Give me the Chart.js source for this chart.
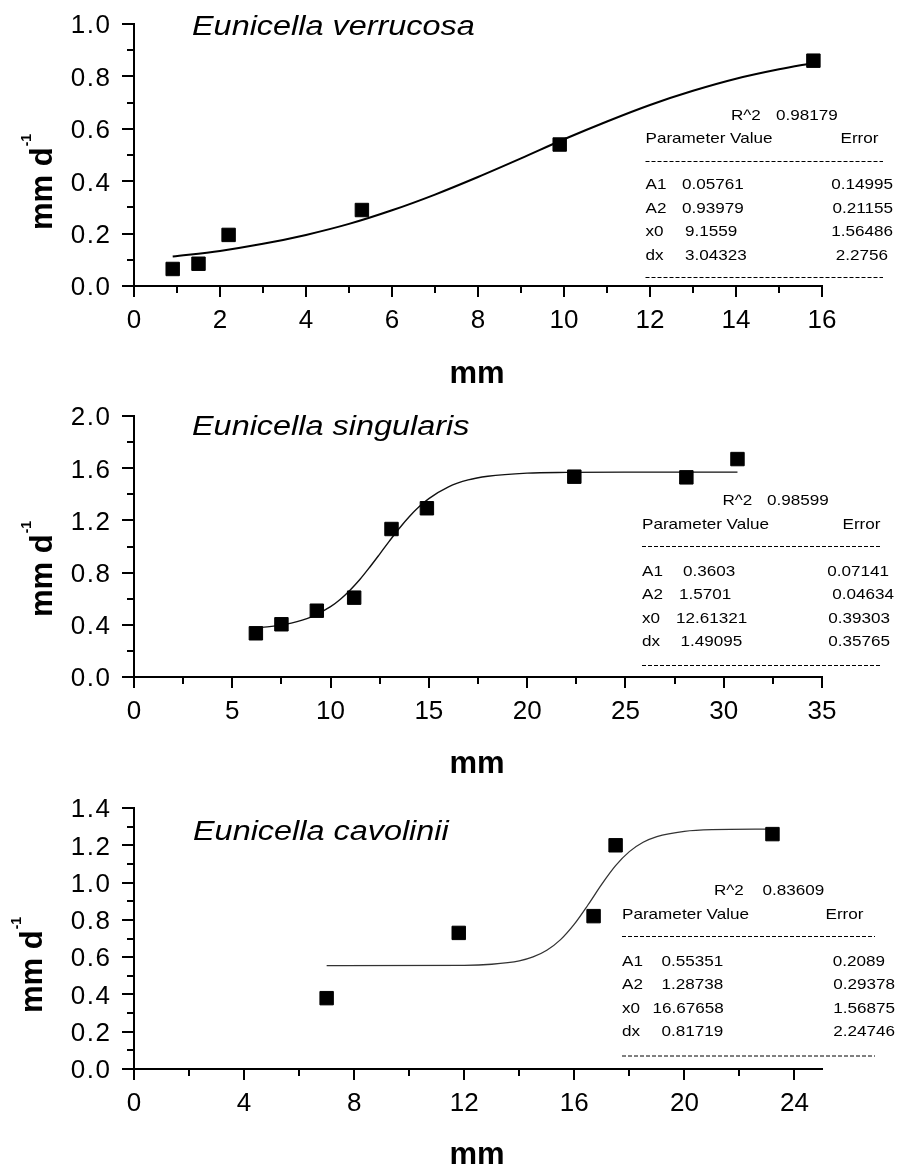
<!DOCTYPE html>
<html lang="en">
<head>
<meta charset="UTF-8">
<title>Eunicella growth rate vs size</title>
<script src="https://cdn.jsdelivr.net/npm/chart.js"></script>
<style>
  body { margin: 0; background: #fff; }
  canvas { display: block; }
</style>
</head>
<body>
<canvas id="c1" width="900" height="390"></canvas>
<canvas id="c2" width="900" height="390"></canvas>
<canvas id="c3" width="900" height="387"></canvas>
<script>
// ---- Eunicella verrucosa ----
const verX = [0.9, 1.5, 2.2, 5.3, 9.9, 15.8];
const verY = [0.065, 0.085, 0.195, 0.29, 0.54, 0.86];
const verFitX = [0.9, 2, 3, 4, 5, 6, 7, 8, 9, 10, 11, 12, 13, 14, 15, 15.8];
const verFitY = [0.113, 0.134, 0.161, 0.195, 0.237, 0.289, 0.349, 0.416, 0.487, 0.560, 0.628, 0.691, 0.745, 0.791, 0.827, 0.851];
const verXTicks = [0, 2, 4, 6, 8, 10, 12, 14, 16];
const verXMinor = [1, 3, 5, 7, 9, 11, 13, 15];
const verYTicks = [0, 0.2, 0.4, 0.6, 0.8, 1.0];
const verYMinor = [0.1, 0.3, 0.5, 0.7, 0.9];
const verYLabels = ['0.0', '0.2', '0.4', '0.6', '0.8', '1.0'];
const verR2 = '0.98179';
const verVals = ['0.05761', '0.93979', '9.1559', '3.04323'];
const verErrs = ['0.14995', '0.21155', '1.56486', '2.2756'];

// ---- Eunicella singularis ----
const singX = [6.2, 7.5, 9.3, 11.2, 13.1, 14.9, 22.4, 28.1, 30.7];
const singY = [0.335, 0.404, 0.508, 0.608, 1.134, 1.293, 1.535, 1.530, 1.670];
const singFitX = [6.2, 7, 8, 9, 10, 10.5, 11, 11.5, 12, 12.5, 13, 13.5, 14, 14.5, 15, 16, 17, 18, 20, 22, 25, 30.7];
const singFitY = [0.377, 0.388, 0.413, 0.459, 0.539, 0.596, 0.667, 0.749, 0.843, 0.942, 1.043, 1.140, 1.228, 1.304, 1.367, 1.457, 1.510, 1.538, 1.562, 1.568, 1.570, 1.570];
const singXTicks = [0, 5, 10, 15, 20, 25, 30, 35];
const singXMinor = [2.5, 7.5, 12.5, 17.5, 22.5, 27.5, 32.5];
const singYTicks = [0, 0.4, 0.8, 1.2, 1.6, 2.0];
const singYMinor = [0.2, 0.6, 1.0, 1.4, 1.8];
const singYLabels = ['0.0', '0.4', '0.8', '1.2', '1.6', '2.0'];
const singR2 = '0.98599';
const singVals = ['0.3603', '1.5701', '12.61321', '1.49095'];
const singErrs = ['0.07141', '0.04634', '0.39303', '0.35765'];

// ---- Eunicella cavolinii ----
const cavX = [7, 11.8, 16.7, 17.5, 23.2];
const cavY = [0.38, 0.73, 0.82, 1.20, 1.26];
const cavFitX = [7, 12, 13, 14, 14.5, 15, 15.5, 16, 16.5, 17, 17.5, 18, 18.5, 19, 20, 21, 23.2];
const cavFitY = [0.554, 0.556, 0.562, 0.580, 0.601, 0.637, 0.694, 0.777, 0.881, 0.992, 1.091, 1.166, 1.216, 1.247, 1.275, 1.284, 1.287];
const cavXTicks = [0, 4, 8, 12, 16, 20, 24];
const cavXMinor = [2, 6, 10, 14, 18, 22];
const cavYTicks = [0, 0.2, 0.4, 0.6, 0.8, 1.0, 1.2, 1.4];
const cavYMinor = [0.1, 0.3, 0.5, 0.7, 0.9, 1.1, 1.3];
const cavYLabels = ['0.0', '0.2', '0.4', '0.6', '0.8', '1.0', '1.2', '1.4'];
const cavR2 = '0.83609';
const cavVals = ['0.55351', '1.28738', '16.67658', '0.81719'];
const cavErrs = ['0.2089', '0.29378', '1.56875', '2.24746'];

const paramNames = ['A1', 'A2', 'x0', 'dx'];

const FONT = '"Liberation Sans", Arial, Helvetica, sans-serif';

function txt(ctx, s, x, y, size, opt) {
  opt = opt || {};
  ctx.save();
  ctx.font = (opt.style || '') + ' ' + size + 'px ' + FONT;
  ctx.fillStyle = '#000';
  ctx.textAlign = opt.align || 'left';
  ctx.textBaseline = 'alphabetic';
  if (opt.spacing) ctx.letterSpacing = opt.spacing + 'px';
  ctx.translate(x, y);
  ctx.scale(opt.sx || 1, 1);
  ctx.fillText(s, 0, 0);
  ctx.restore();
}

function dashLine(ctx, x0, x1, y) {
  ctx.save();
  ctx.strokeStyle = '#000';
  ctx.lineWidth = 1;
  ctx.setLineDash([4, 2]);
  ctx.beginPath();
  ctx.moveTo(x0, y + 0.5);
  ctx.lineTo(x1, y + 0.5);
  ctx.stroke();
  ctx.restore();
}

// minor ticks, tick labels, titles and fit table
const decor = {
  id: 'decor',
  afterDraw(chart, args, o) {
    const ctx = chart.ctx, xs = chart.scales.x, ys = chart.scales.y;
    const area = chart.chartArea;

    ctx.save();
    ctx.strokeStyle = '#000';
    ctx.lineWidth = 2;
    ctx.beginPath();
    o.xMinor.forEach(v => {
      const px = Math.round(xs.getPixelForValue(v));
      ctx.moveTo(px, area.bottom);
      ctx.lineTo(px, area.bottom + 7);
    });
    o.yMinor.forEach(v => {
      const py = Math.round(ys.getPixelForValue(v));
      ctx.moveTo(area.left, py);
      ctx.lineTo(area.left - 7, py);
    });
    ctx.stroke();
    ctx.restore();

    xs.ticks.forEach(t => txt(ctx, String(t.value), xs.getPixelForValue(t.value), area.bottom + 42, 26, {align: 'center'}));
    ys.ticks.forEach((t, i) => txt(ctx, o.yLabels[i], 111.5, ys.getPixelForValue(t.value) + 9.3, 26, {align: 'right', spacing: 1.5}));

    txt(ctx, o.title, o.titleX, o.titleY, 27, {style: 'italic', sx: 1.2});
    txt(ctx, 'mm', 477, o.xTitleY, 31, {style: 'bold', align: 'center'});

    ctx.save();
    ctx.fillStyle = '#000';
    ctx.translate(o.yTitleX, o.yTitleY);
    ctx.rotate(-Math.PI / 2);
    ctx.font = 'bold 31px ' + FONT;
    ctx.textAlign = 'left';
    ctx.fillText('mm d', 0, 0);
    const w = ctx.measureText('mm d').width;
    ctx.font = 'bold 14px ' + FONT;
    ctx.fillText('-1', w + 1, -21);
    ctx.restore();

    const s = o.stats;
    const sx = 1.14;
    txt(ctx, 'R^2', s.r2X, s.r2Y, 15, {sx});
    txt(ctx, s.r2, s.r2vX, s.r2Y, 15, {sx});
    txt(ctx, 'Parameter Value', s.left, s.headY, 15, {sx});
    txt(ctx, 'Error', s.errX, s.headY, 15, {sx});
    dashLine(ctx, s.left, s.right, s.dash1Y);
    paramNames.forEach((n, i) => {
      txt(ctx, n, s.left, s.rowY[i], 15, {sx});
      txt(ctx, s.vals[i], s.valX[i], s.rowY[i], 15, {sx});
      txt(ctx, s.errs[i], s.errR[i], s.rowY[i], 15, {sx, align: 'right'});
    });
    dashLine(ctx, s.left, s.right, s.dash2Y);
  }
};

function axis(min, max, ticks, tickLen, fit) {
  return {
    type: 'linear',
    min: min,
    max: max,
    afterBuildTicks: sc => { sc.ticks = ticks.map(v => ({value: v})); },
    afterFit: fit,
    border: {display: true, width: 2, color: '#000'},
    grid: {display: true, drawOnChartArea: false, drawTicks: true, tickLength: tickLen,
           lineWidth: 2, tickWidth: 2, color: '#000', tickColor: '#000'},
    ticks: {display: false}
  };
}

function makeChart(id, p) {
  return new Chart(document.getElementById(id), {
    type: 'scatter',
    data: {
      datasets: [
        {
          data: p.x.map((x, i) => ({x: x, y: p.y[i]})),
          pointStyle: 'rect',
          pointRadius: 9.5,
          pointBorderWidth: 1,
          backgroundColor: '#000',
          borderColor: '#000'
        },
        {
          data: p.fitX.map((x, i) => ({x: x, y: p.fitY[i]})),
          showLine: true,
          pointRadius: 0,
          borderColor: p.lineColor,
          borderWidth: p.lineWidth,
          cubicInterpolationMode: 'monotone'
        }
      ]
    },
    options: {
      responsive: false,
      animation: false,
      events: [],
      layout: {padding: {top: p.top, right: 78, left: 0, bottom: 0}},
      scales: {
        x: axis(0, p.xMax, p.xTicks, 11, sc => { sc.height = p.xH; }),
        y: axis(0, p.yMax, p.yTicks, 12, sc => { sc.width = 134; })
      },
      plugins: {
        legend: {display: false},
        tooltip: {enabled: false},
        decor: p.decor
      }
    },
    plugins: [decor]
  });
}

makeChart('c1', {
  x: verX, y: verY, fitX: verFitX, fitY: verFitY,
  xMax: 16, yMax: 1.0, xTicks: verXTicks, yTicks: verYTicks,
  top: 24, xH: 104, lineColor: '#000', lineWidth: 2,
  decor: {
    title: 'Eunicella verrucosa', titleX: 192, titleY: 35,
    xMinor: verXMinor, yMinor: verYMinor, yLabels: verYLabels,
    xTitleY: 383, yTitleX: 52, yTitleY: 230,
    stats: {
      r2: verR2, vals: verVals, errs: verErrs,
      r2X: 731, r2vX: 776, r2Y: 119.5,
      left: 645.5, right: 883, headY: 142.5, errX: 840.5,
      dash1Y: 161, dash2Y: 277,
      rowY: [189, 212.5, 236, 260],
      valX: [682, 682, 685, 685],
      errR: [893, 893, 893, 888]
    }
  }
});

makeChart('c2', {
  x: singX, y: singY, fitX: singFitX, fitY: singFitY,
  xMax: 35, yMax: 2.0, xTicks: singXTicks, yTicks: singYTicks,
  top: 26, xH: 103, lineColor: '#111', lineWidth: 1.4,
  decor: {
    title: 'Eunicella singularis', titleX: 192, titleY: 45,
    xMinor: singXMinor, yMinor: singYMinor, yLabels: singYLabels,
    xTitleY: 383, yTitleX: 52, yTitleY: 227,
    stats: {
      r2: singR2, vals: singVals, errs: singErrs,
      r2X: 722.5, r2vX: 767, r2Y: 115,
      left: 642, right: 880, headY: 139, errX: 842.5,
      dash1Y: 156, dash2Y: 275,
      rowY: [185.5, 209, 232.5, 256],
      valX: [683, 679, 676, 680.5],
      errR: [889, 894, 890, 890]
    }
  }
});

makeChart('c3', {
  x: cavX, y: cavY, fitX: cavFitX, fitY: cavFitY,
  xMax: 25, yMax: 1.4, xTicks: cavXTicks, yTicks: cavYTicks,
  top: 28, xH: 98, lineColor: '#333', lineWidth: 1.3,
  decor: {
    title: 'Eunicella cavolinii', titleX: 193, titleY: 60,
    xMinor: cavXMinor, yMinor: cavYMinor, yLabels: cavYLabels,
    xTitleY: 384, yTitleX: 42, yTitleY: 233,
    stats: {
      r2: cavR2, vals: cavVals, errs: cavErrs,
      r2X: 714, r2vX: 762.5, r2Y: 115,
      left: 622, right: 875, headY: 139, errX: 825.5,
      dash1Y: 156, dash2Y: 275.5,
      rowY: [185.5, 209, 232.5, 256],
      valX: [661.5, 661.5, 652.5, 661.5],
      errR: [885, 895, 895, 895]
    }
  }
});
</script>
</body>
</html>
